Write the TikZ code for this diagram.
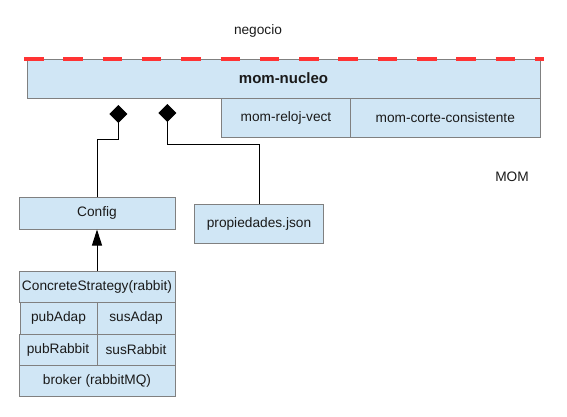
\documentclass[tikz,border=0pt]{standalone}
\usepackage{fontspec}
\setmainfont{Liberation Sans}
\usetikzlibrary{arrows.meta}
\definecolor{boxfill}{HTML}{D0E6F5}
\definecolor{boxline}{HTML}{808080}
\definecolor{cutred}{HTML}{FF3333}
\definecolor{inktext}{HTML}{1A1A1A}

\begin{document}
\begin{tikzpicture}[x=1pt, y=-1pt, every node/.style={font=\fontsize{13.7}{16}\selectfont, text=inktext}]
      \tikzset{module/.style={draw=boxline, fill=boxfill, line width=1pt, inner sep=0pt}}
      \tikzset{composed/.style={draw, line width=1pt, -{Diamond[width=18pt, length=18pt]}}}
      \tikzset{realizes/.style={draw, line width=1pt, -{Triangle[width=10pt, length=16pt]}}}
      \useasboundingbox (0,0) rectangle (567,416);
%% Labels
      	\node (negocio) at (258,31) {negocio};
      	\node (momlabel) at (512,177) {MOM};
%% Modules
      	\node[module, minimum width=513pt, minimum height=39pt, font=\fontsize{15}{18}\selectfont\bfseries] (nucleo) at (283.5,78.5) {mom-nucleo};
      	\node[module, minimum width=129pt, minimum height=39pt] (reloj) at (286,117.5) {mom-reloj-vect};
      	\node[module, minimum width=189.5pt, minimum height=39pt] (corte) at (445.25,117.5) {mom-corte-consistente};
      	\node[module, minimum width=156pt, minimum height=32pt] (config) at (97,213) {Config};
      	\node[module, minimum width=129.5pt, minimum height=39pt] (props) at (259,224) {propiedades.json};
%% Strategy
      	\node[module, minimum width=156pt, minimum height=31pt] (strategy) at (97,286.5) {ConcreteStrategy(rabbit)};
      	\node[module, minimum width=77pt, minimum height=32pt] (pubadap) at (58.5,318) {pubAdap};
      	\node[module, minimum width=78pt, minimum height=32pt] (susadap) at (136,318) {susAdap};
      	\node[module, minimum width=78pt, minimum height=31pt] (pubrabbit) at (58,349.5) {pubRabbit};
      	\node[module, minimum width=78pt, minimum height=31pt] (susrabbit) at (136,349.5) {susRabbit};
      	\node[module, minimum width=156pt, minimum height=31pt] (broker) at (97,380.5) {broker (rabbitMQ)};
%% Cut line
      	\draw[cutred, line width=4pt, dash pattern=on 19.5pt off 19.8pt] (24,59) -- (544,59);
%% Connectors
      	\coordinate (dconfig) at (118.3,105);
      	\coordinate (dprops) at (167.3,104);
		\path[composed] (config.north) -- ++(0,-57) -| (dconfig);
		\path[composed] (props.north) -- ++(0,-60) -| (dprops);
		\path[realizes] (strategy.north) -- (config.south);
	\end{tikzpicture}
\end{document}
